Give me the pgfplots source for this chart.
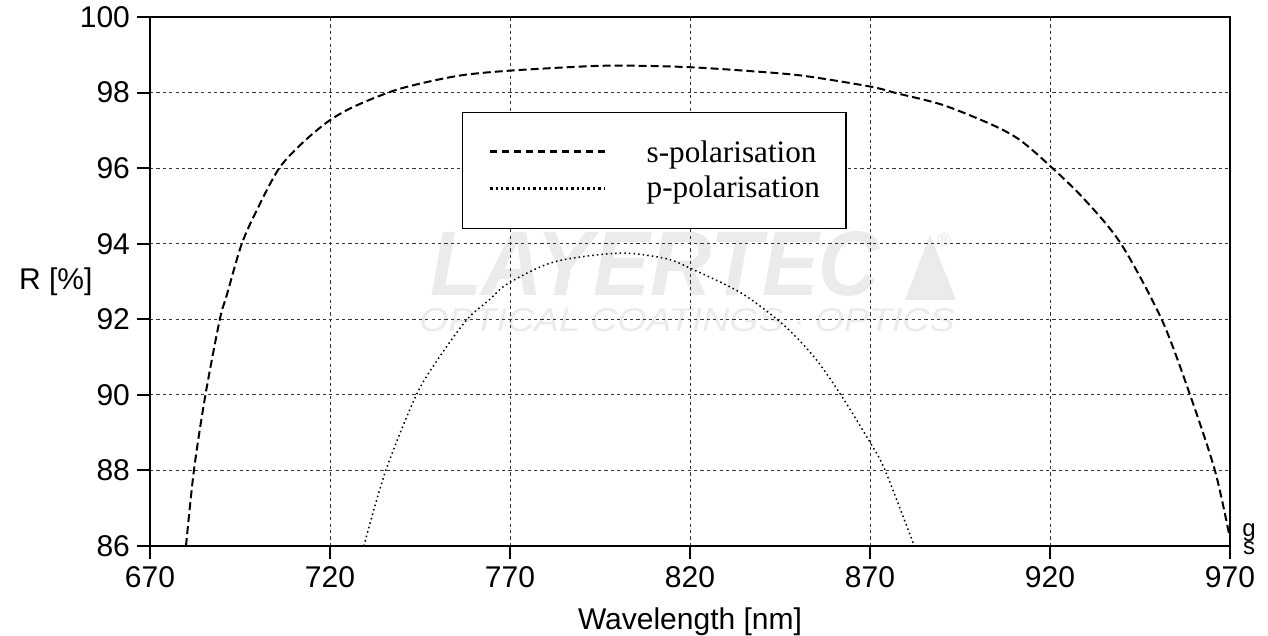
\documentclass[border=0pt]{standalone}
\usepackage{fontspec}
\setmainfont{Liberation Sans}
\newfontfamily\legfont{Liberation Serif}
\usepackage{pgfplots}
\pgfplotsset{compat=1.18}

\begin{document}
\begin{tikzpicture}
% watermark (behind everything), 1px = 0.5pt, origin at lower left of the axis box
\node[text=black!8, inner sep=0pt] at (252.5pt,141pt)
  {\resizebox{225pt}{32pt}{\bfseries\itshape LAYERTEC}};
\fill[black!8] (377.5pt,123pt) -- (403pt,123pt) -- (390pt,155.5pt) -- cycle;
\node[text=black!10, inner sep=0pt, font=\fontsize{9}{10}\selectfont] at (397pt,153pt) {\textregistered};
\node[text=black!8, inner sep=0pt] at (268.5pt,113pt)
  {\resizebox{267.5pt}{11.5pt}{\itshape OPTICAL COATINGS $\cdot$ OPTICS}};

\begin{axis}[
  scale only axis,
  width=540pt, height=264.5pt,
  xmin=670, xmax=970, ymin=86, ymax=100,
  xtick={670,720,...,970},
  ytick={86,88,...,100},
  tick pos=left,
  tick align=outside,
  major tick length=6.5pt,
  tick style={line width=1pt, black},
  axis line style={line width=1pt},
  grid=major,
  grid style={dash pattern=on 1.6pt off 1.6pt, line width=0.5pt, black!80},
  ticklabel style={font=\fontsize{15}{18}\selectfont},
  /pgf/number format/assume math mode=true,
  /pgf/number format/1000 sep={},
  xlabel={Wavelength [nm]},
  ylabel={R [\%]},
  every axis x label/.style={at={(rel axis cs:0.5,0)}, anchor=center, yshift=-38pt,
    font=\fontsize{15}{18}\selectfont},
  every axis y label/.style={at={(rel axis cs:0,0.5)}, anchor=west, xshift=-69pt,
    font=\fontsize{15}{18}\selectfont},
  legend cell align=left,
  legend style={
    at={(rel axis cs:0.2889,0.8204)}, anchor=north west,
    draw=black, line width=0.7pt,
    inner xsep=13pt, inner ysep=14pt,
    row sep=5.2pt, column sep=20pt,
    nodes={inner sep=0pt},
    font=\legfont\fontsize{15.6}{18}\selectfont},
]

\addplot[black, line width=1pt, dash pattern=on 4pt off 2pt, smooth, tension=0.5,
  legend image code/.code={\draw[black, line width=1.5pt, dash pattern=on 3.6pt off 2.4pt]
    (0pt,0.8pt) -- (57.5pt,0.8pt);}]
coordinates{
(680.0,86.00)
(682.2,88.00)
(685.4,90.00)
(689.4,92.00)
(691.3,92.63)
(695.5,94.00)
(700.1,94.97)
(705.9,96.00)
(712.6,96.69)
(720.0,97.27)
(727.4,97.66)
(739.4,98.10)
(755.4,98.44)
(770.0,98.58)
(792.6,98.70)
(805.3,98.71)
(820.2,98.67)
(835.0,98.58)
(851.0,98.45)
(870.0,98.16)
(877.5,97.98)
(890.3,97.67)
(904.1,97.14)
(911.7,96.74)
(920.0,96.06)
(929.3,95.20)
(939.7,94.00)
(951.0,92.00)
(958.9,90.00)
(965.8,88.00)
(969.8,86.29)
};
\addlegendentry{s-polarisation}

\addplot[black, line width=0.75pt, dash pattern=on 0.75pt off 1.55pt, smooth, tension=0.5,
  legend image code/.code={\draw[black, line width=1.5pt, dash pattern=on 1.2pt off 1.5pt]
    (0pt,0pt) -- (57.5pt,0pt);}]
coordinates{
(729.4,86.00)
(735.5,88.00)
(744.0,90.00)
(750.4,91.00)
(758.1,92.00)
(764.2,92.51)
(769.5,92.95)
(782.3,93.52)
(800.3,93.75)
(813.1,93.61)
(820.1,93.35)
(834.3,92.69)
(846.0,91.85)
(854.5,91.00)
(861.9,90.00)
(869.9,88.76)
(874.2,88.00)
(882.3,86.00)
};
\addlegendentry{p-polarisation}

\end{axis}

\node[inner sep=0pt, font=\fontsize{12}{13}\selectfont] at (549.5pt,6.5pt) {g};
\node[inner sep=0pt, font=\fontsize{12}{13}\selectfont] at (549.5pt,-1pt) {s};

\pgfresetboundingbox
\path[use as bounding box] (-75pt,-45pt) rectangle (559pt,273pt);
\end{tikzpicture}
\end{document}
